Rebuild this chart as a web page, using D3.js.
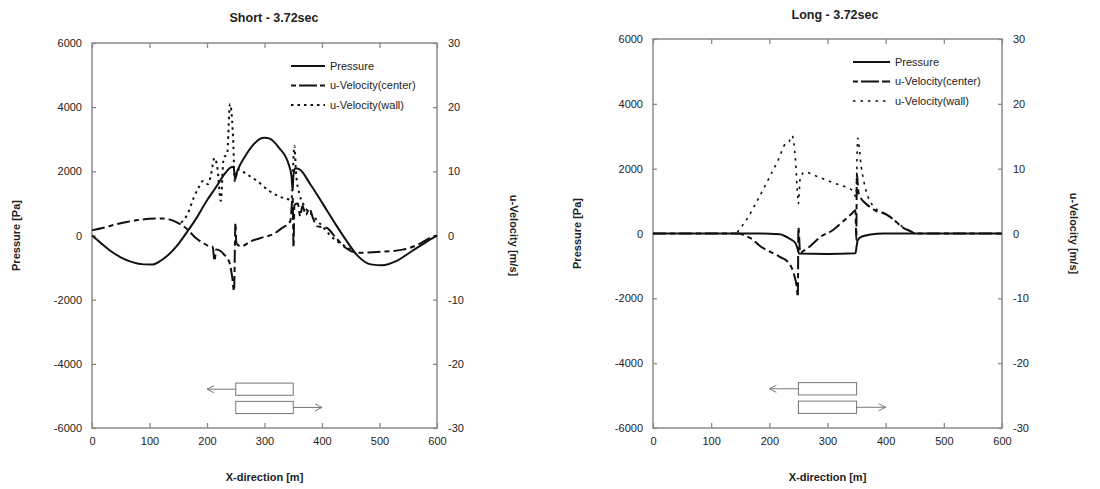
<!DOCTYPE html>
<html>
<head>
<meta charset="utf-8">
<script src="https://cdn.jsdelivr.net/npm/d3@7"></script>
<style>
  body { margin: 0; background: #fff; }
  svg { font-family: Arial, "Liberation Sans", sans-serif; }
  .tick text { font-size: 11px; fill: #222; }
  .tick line { stroke: #8a8a8a; stroke-width: 1.3; }
  .frame { fill: none; stroke: #8a8a8a; stroke-width: 1.5; }
  .ttl { font-size: 12.5px; font-weight: bold; fill: #222; }
  .lab { font-size: 11px; font-weight: bold; fill: #222; }
  .leg { font-size: 11px; fill: #222; }
  .train { fill: #fff; stroke: #777; stroke-width: 1; }
  .arrow { fill: none; stroke: #777; stroke-width: 1; }
</style>
</head>
<body>
<script>
/* data: [x (m), value] */
const xTicks = [0, 100, 200, 300, 400, 500, 600];
const pTicks = [6000, 4000, 2000, 0, -2000, -4000, -6000];
const vTicks = [30, 20, 10, 0, -10, -20, -30];
const legendLabels = ["Pressure", "u-Velocity(center)", "u-Velocity(wall)"];

// Short - 3.72sec
const shortPressure = [[0,0],[15,-230],[30,-450],[50,-680],[70,-830],[90,-900],[105,-905],[120,-780],[133,-600],[149,-290],
  [166,130],[182,550],[199,1070],[215,1490],[232,1950],[240,2110],[246,2140],[248,1900],[249,1750],[251,1900],[254,2060],
  [265,2430],[281,2840],[292,3010],[300,3050],[309,3020],[325,2740],[342,2220],[347,1850],[349,1400],[350,1800],[353,2100],
  [361,2060],[380,1590],[402,970],[424,340],[441,-120],[463,-650],[485,-900],[505,-930],[529,-800],[556,-490],[583,-180],[600,0]];
const shortCenter = [[0,0.8],[20,1.2],[40,1.7],[60,2.1],[80,2.4],[100,2.6],[122,2.65],[144,2.2],[166,0.95],[180,-0.35],
  [193,-1.15],[204,-1.7],[210,-1.8],[213,-4.0],[216,-2.2],[224,-2.45],[230,-3.0],[235,-3.5],[240,-4.5],[244,-6.6],[247,-8.7],
  [249.5,2.0],[251,-1.2],[259,-1.7],[276,-0.9],[298,-0.26],[314,0.16],[331,1.2],[345,2.24],[349,5.9],[350.5,-1.9],[352,4.8],
  [358,5.0],[362,3.0],[366,4.6],[372,3.2],[378,4.2],[384,2.8],[391,1.46],[408,1.2],[424,-0.36],[441,-1.9],[463,-2.7],
  [501,-2.55],[540,-2.2],[573,-1.15],[583,-0.6],[600,0]];
const shortWall = [[155,2.0],[166,3.3],[177,5.9],[185,7.4],[193,8.5],[202,8.0],[207,9.5],[213,12.1],[218,10.6],[224,5.4],
  [229,12.1],[235,12.7],[240,20.5],[246,13.7],[248,8.5],[254,10.3],[270,9.5],[287,8.5],[309,6.9],[331,5.9],[347,5.6],
  [352,14.0],[355,9.5],[361,6.4],[370,4.5],[385,3.0],[400,1.5],[419,-0.4],[441,-1.7],[450,-2.2]];

// Long - 3.72sec
const longPressure = [[0,0],[150,0],[200,-5],[218,-20],[234,-150],[245,-300],[249,-500],[251,-620],[300,-630],[348,-610],
  [350,-400],[352,-200],[358,-100],[374,-30],[396,0],[600,0]];
const longCenter = [[0,0],[147,0],[160,-0.4],[169,-0.8],[185,-2.0],[201,-2.8],[218,-3.6],[234,-4.6],[242,-6.2],[247,-8.2],
  [249,-9.8],[250,1.0],[253,-3.0],[260,-2.6],[272,-1.8],[288,-0.5],[309,0.5],[326,1.8],[342,3.1],[348,3.6],[349.5,-1.0],
  [350.5,9.3],[353,6.5],[355,5.9],[366,4.6],[375,4.0],[385,3.4],[395,3.2],[407,2.6],[418,1.8],[428,1.0],[445,0.26],[450,0],[600,0]];
const longWall = [[145,0.2],[164,2.6],[180,5.2],[201,8.8],[215,11.3],[228,13.9],[234,14.2],[239,15.1],[245,11.3],[249,5.5],
  [250,4.6],[253,8.5],[261,9.5],[277,9.0],[299,8.2],[320,7.5],[342,6.7],[349,5.7],[352,14.7],[358,10.3],[366,6.7],[380,4.1],
  [407,2.6],[425,1.3],[439,0.5],[450,0]];

// trains: [from, to] in m, and their pressure band on the left axis
const trainSpan = [250, 350];
const trainRows = [[-4600, -4980, 200], [-5170, -5550, 400]];

const svg = d3.select("body").append("svg")
    .attr("width", 1100)
    .attr("height", 489);

const panels = [
  { title: "Short - 3.72sec", x0: 92, x1: 437, y0: 43, y1: 428, ttlX: 274, ttlY: 22, pLabX: 16, vLabX: 514,
    legX: 291, legY: 66, legW: 34, wallW: 2, wallDash: "2.5 4",
    p: shortPressure, c: shortCenter, w: shortWall },
  { title: "Long - 3.72sec", x0: 653, x1: 1002, y0: 39, y1: 428, ttlX: 835, ttlY: 19, pLabX: 577, vLabX: 1074,
    legX: 853, legY: 62, legW: 37, wallW: 1.6, wallDash: "2.5 5",
    p: longPressure, c: longCenter, w: longWall }
];

panels.forEach(drawPanel);

function drawPanel(o) {
  var xs = d3.scaleLinear().domain([0, 600]).range([o.x0, o.x1]);
  var yP = d3.scaleLinear().domain([-6000, 6000]).range([o.y1, o.y0]);
  var yV = d3.scaleLinear().domain([-30, 30]).range([o.y1, o.y0]);
  var g = svg.append("g");
  var plain = d => String(d);

  g.append("g").attr("transform", "translate(0," + o.y1 + ")")
      .call(d3.axisBottom(xs).tickValues(xTicks).tickSize(-5).tickPadding(9).tickFormat(plain));
  g.append("g").attr("transform", "translate(0," + o.y0 + ")")
      .call(d3.axisTop(xs).tickValues(xTicks).tickSize(-5).tickFormat(""));
  g.append("g").attr("transform", "translate(" + o.x0 + ",0)")
      .call(d3.axisLeft(yP).tickValues(pTicks).tickSize(-4).tickPadding(10).tickFormat(plain));
  g.append("g").attr("transform", "translate(" + o.x1 + ",0)")
      .call(d3.axisRight(yV).tickValues(vTicks).tickSize(-4).tickPadding(11).tickFormat(plain));
  g.selectAll(".domain").remove();

  g.append("rect").attr("class", "frame")
      .attr("x", o.x0).attr("y", o.y0)
      .attr("width", o.x1 - o.x0).attr("height", o.y1 - o.y0);

  // texts
  g.append("text").attr("class", "ttl").attr("x", o.ttlX).attr("y", o.ttlY)
      .attr("text-anchor", "middle").text(o.title);
  g.append("text").attr("class", "lab").attr("x", (o.x0 + o.x1) / 2).attr("y", 481)
      .attr("text-anchor", "middle").text("X-direction [m]");
  g.append("text").attr("class", "lab")
      .attr("transform", "translate(" + o.pLabX + "," + yP(0) + ") rotate(-90)")
      .attr("text-anchor", "middle").attr("dy", "0.35em").text("Pressure [Pa]");
  g.append("text").attr("class", "lab")
      .attr("transform", "translate(" + o.vLabX + "," + yV(0) + ") rotate(90)")
      .attr("text-anchor", "middle").attr("dy", "0.35em").text("u-Velocity [m/s]");

  // trains
  trainRows.forEach(function(r) {
    g.append("rect").attr("class", "train")
        .attr("x", xs(trainSpan[0])).attr("y", yP(r[0]))
        .attr("width", xs(trainSpan[1]) - xs(trainSpan[0]))
        .attr("height", yP(r[1]) - yP(r[0]));
    var ym = (yP(r[0]) + yP(r[1])) / 2;
    var from = r[2] < trainSpan[0] ? trainSpan[0] : trainSpan[1];
    var dir = r[2] < from ? 1 : -1;
    var tip = xs(r[2]);
    g.append("path").attr("class", "arrow")
        .attr("d", "M" + xs(from) + "," + ym + "H" + tip +
          "M" + (tip + dir * 7) + "," + (ym - 3.5) + "L" + tip + "," + ym + "L" + (tip + dir * 7) + "," + (ym + 3.5));
  });

  var lineP = d3.line().x(d => xs(d[0])).y(d => yP(d[1])).curve(d3.curveMonotoneX);
  var lineV = d3.line().x(d => xs(d[0])).y(d => yV(d[1])).curve(d3.curveMonotoneX);

  g.append("path").datum(o.w).attr("d", lineV)
      .attr("fill", "none").attr("stroke", "#111").attr("stroke-width", o.wallW)
      .attr("stroke-dasharray", o.wallDash);
  g.append("path").datum(o.c).attr("d", lineV)
      .attr("fill", "none").attr("stroke", "#111").attr("stroke-width", 2)
      .attr("stroke-dasharray", "13 4 5 4");
  g.append("path").datum(o.p).attr("d", lineP)
      .attr("fill", "none").attr("stroke", "#111").attr("stroke-width", 2);

  // legend
  var styles = [
    { w: 2, dash: null },
    { w: 2, dash: "5 3 13 0" },
    { w: o.wallW, dash: o.wallDash }
  ];
  legendLabels.forEach(function(t, i) {
    var y = o.legY + i * 19.5;
    g.append("line").attr("x1", o.legX).attr("x2", o.legX + o.legW).attr("y1", y).attr("y2", y)
        .attr("stroke", "#111").attr("stroke-width", styles[i].w)
        .attr("stroke-dasharray", styles[i].dash);
    g.append("text").attr("class", "leg").attr("x", o.legX + o.legW + 5).attr("y", y)
        .attr("dy", "0.35em").text(t);
  });
}
</script>
</body>
</html>
